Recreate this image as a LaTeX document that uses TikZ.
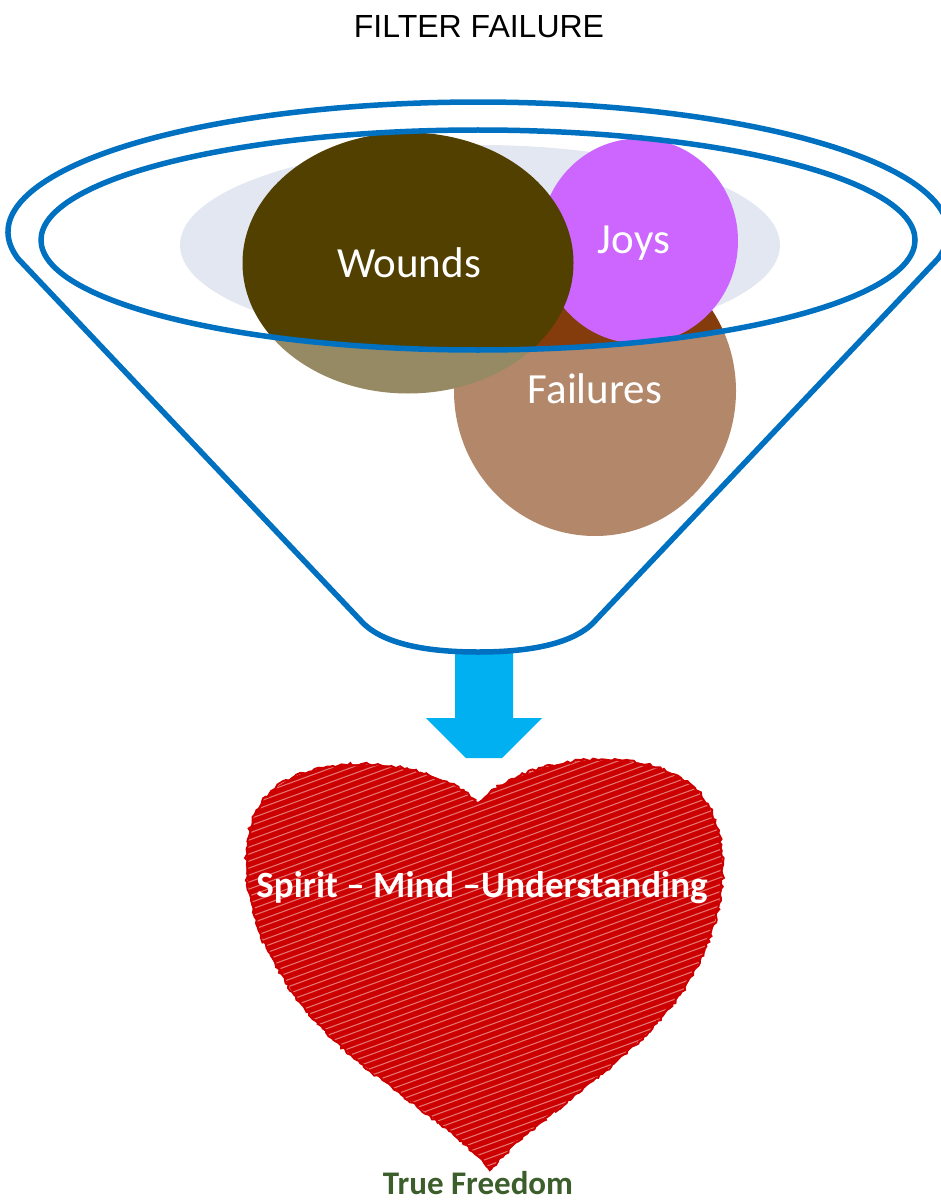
\documentclass[tikz,border=0pt]{standalone}
\usepackage{fontspec}
\setmainfont{Carlito}
\newfontfamily\arialfont{Liberation Sans}
\usetikzlibrary{shapes.geometric,decorations.pathmorphing}
\definecolor{funnelblue}{HTML}{0070C0}
\definecolor{arrowblue}{HTML}{00B0F0}
\definecolor{woundcol}{HTML}{524000}
\definecolor{joycol}{HTML}{CC66FF}
\definecolor{failcol}{HTML}{843C0C}
\definecolor{rimcol}{HTML}{E3E7F2}
\definecolor{heartred}{HTML}{CC0000}
\definecolor{freegreen}{HTML}{3B5E2B}
\newcommand\heartpath{(478,803) .. controls (520,758) and (640,740) .. (695,788)
  .. controls (732,825) and (730,900) .. (700,960)
  .. controls (660,1050) and (540,1110) .. (490,1170)
  .. controls (440,1110) and (330,1060) .. (285,980)
  .. controls (243,920) and (235,840) .. (262,802)
  .. controls (300,748) and (430,755) .. (478,803) -- cycle}
\begin{document}
\begin{tikzpicture}[x=1pt, y=-1pt,
      blob/.style={ellipse, inner sep=0pt, text=white, font=\fontsize{43}{50}\selectfont},
      rim/.style={draw=funnelblue, line width=5.5pt, line join=round}]
  \useasboundingbox (0,0) rectangle (941,1201);
  \node[font=\arialfont\fontsize{32}{38}\selectfont] (title) at (479,27) {FILTER FAILURE};
  \fill[rimcol] (480,245) ellipse[x radius=300, y radius=100];
  \node[blob, fill=failcol, minimum width=282, minimum height=290] (fail) at (595,391) {};
  \node[blob, fill=joycol, minimum width=198, minimum height=205] (joys) at (639,241) {};
  \node[blob, fill=woundcol, minimum width=331, minimum height=261] (wounds) at (408,263) {};
  \node[blob] (woundlabel) at (409,263) {Wounds};
  \node[blob] (joylabel) at (634,243) {Joys};
  \fill[white, opacity=0.39, even odd rule] (18,258.6) arc[start angle=168.2, end angle=371.8, x radius=470, y radius=130]
      -- (593,623) .. controls (571,645) and (526,652) .. (478,652)
      .. controls (430,652) and (385,645) .. (363,623) -- cycle
      (478,240) ellipse[x radius=437, y radius=110];
  \node[blob] (faillabel) at (595,389) {Failures};
  \fill[arrowblue] (455,650) -- (513,650) -- (513,718) -- (542,718) -- (502,758)
      -- (466,758) -- (426,718) -- (455,718) -- cycle;
  \draw[rim] (18,258.6) arc[start angle=168.2, end angle=371.8, x radius=470, y radius=130]
      -- (593,623) .. controls (571,645) and (526,652) .. (478,652)
      .. controls (430,652) and (385,645) .. (363,623) -- cycle;
  \draw[rim] (478,240) ellipse[x radius=437, y radius=110];
  \begin{scope}
    \clip \heartpath;
    \fill[heartred] (200,740) rectangle (760,1190);
    \foreach \k in {0,...,95}
      \draw[white, opacity=0.45, line width=1.1pt] (200,760+7*\k) -- (760,555+7*\k);
  \end{scope}
  \draw[heartred, line width=2pt, decorate, decoration={random steps, segment length=3pt, amplitude=1.5pt}] \heartpath;
  \node[text=white, font=\bfseries\fontsize{37}{44}\selectfont] (smu) at (482,888) {Spirit – Mind –Understanding};
  \node[text=freegreen, anchor=base, inner sep=0pt, font=\bfseries\fontsize{33}{38}\selectfont] (free) at (478,1194) {True Freedom};
\end{tikzpicture}
\end{document}
